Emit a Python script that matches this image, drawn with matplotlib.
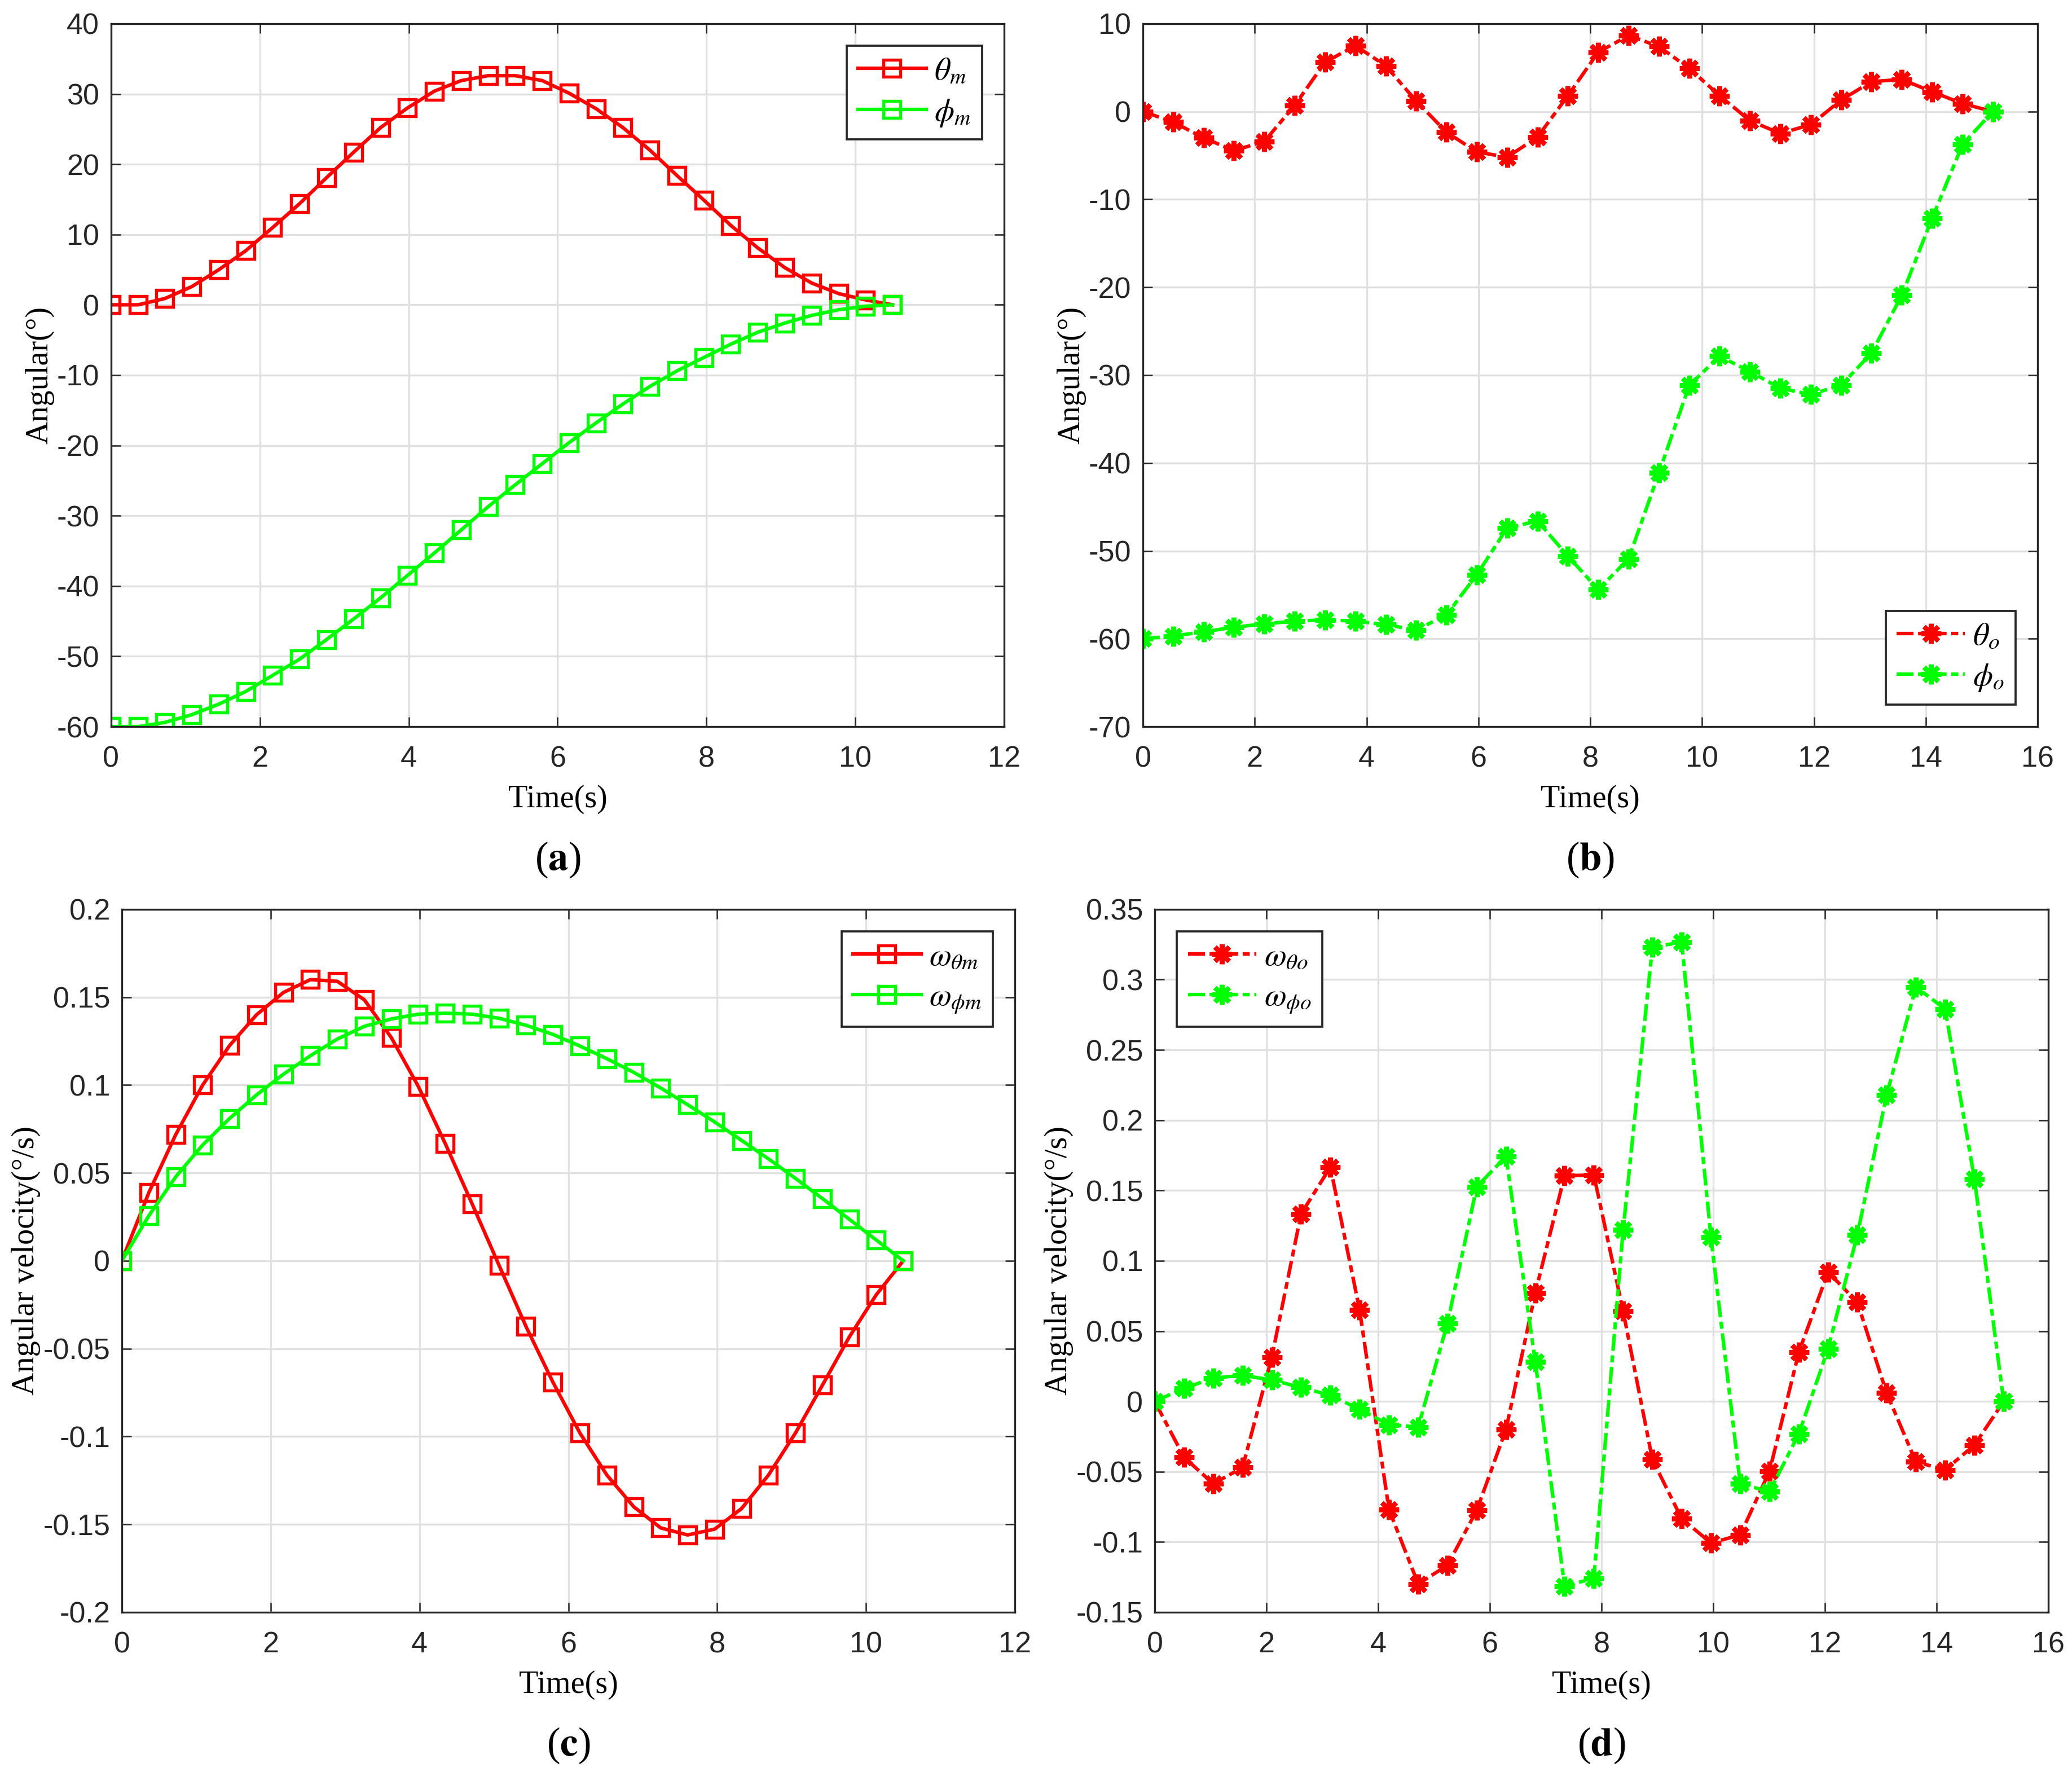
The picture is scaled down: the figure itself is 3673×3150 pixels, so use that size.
import numpy as np
import matplotlib.pyplot as plt
from matplotlib.ticker import FuncFormatter

plt.rcParams['font.family'] = ['Liberation Sans', 'DejaVu Sans']
plt.rcParams['mathtext.fontset'] = 'stix'
plt.rcParams['axes.unicode_minus'] = False

# Time vectors
t_m = np.linspace(0, 10.5, 30)
t_o = np.linspace(0, 15.2, 29)
t_wo = np.linspace(0, 15.2, 30)

# (a) angles of the m trajectory
theta_m = [0, 0, 0.9, 2.6, 5.0, 7.7, 11.0, 14.4, 18.1, 21.7, 25.2, 28.0, 30.4, 31.9, 32.6,
           32.6, 31.9, 30.1, 27.9, 25.2, 22.0, 18.4, 14.9, 11.3, 8.1, 5.3, 3.1, 1.6, 0.7, 0]
phi_m = [-60, -60, -59.4, -58.3, -56.8, -55.0, -52.7, -50.4, -47.6, -44.7, -41.7, -38.5, -35.3, -32.0,
         -28.7, -25.6, -22.6, -19.6, -16.8, -14.1, -11.6, -9.4, -7.5, -5.6, -3.9, -2.6, -1.5, -0.7, -0.2, 0]

# (b) angles of the o trajectory
theta_o = [0, -1.2, -3.0, -4.45, -3.4, 0.7, 5.6, 7.5, 5.2, 1.2, -2.35, -4.6, -5.2, -2.9, 1.8,
           6.75, 8.65, 7.4, 4.9, 1.8, -1.05, -2.5, -1.5, 1.3, 3.4, 3.65, 2.25, 0.9, 0]
phi_o = [-60, -59.7, -59.2, -58.7, -58.3, -58.0, -57.85, -58.0, -58.4, -59.0, -57.3, -52.7, -47.4,
         -46.6, -50.6, -54.4, -50.9, -41.1, -31.15, -27.85, -29.6, -31.5, -32.2, -31.15, -27.5,
         -20.9, -12.15, -3.75, 0]

# (c) angular velocity of the m trajectory
w_theta_m = [0, 0.0387, 0.0718, 0.100, 0.1225, 0.140, 0.1527, 0.160, 0.159, 0.1485, 0.127, 0.0993,
             0.0668, 0.0324, -0.0026, -0.0374, -0.0691, -0.098, -0.1219, -0.140, -0.152, -0.156,
             -0.1527, -0.141, -0.1219, -0.098, -0.0708, -0.0433, -0.0193, 0]
w_phi_m = [0, 0.0256, 0.0478, 0.0659, 0.081, 0.0944, 0.1062, 0.1167, 0.1262, 0.1334, 0.1376, 0.1403,
           0.1409, 0.1403, 0.138, 0.134, 0.1288, 0.1222, 0.115, 0.1072, 0.0983, 0.0888, 0.079,
           0.0685, 0.058, 0.0469, 0.0354, 0.0236, 0.0118, 0]

# (d) angular velocity of the o trajectory
w_theta_o = [0, -0.0397, -0.0586, -0.047, 0.0315, 0.1334, 0.1666, 0.0649, -0.0768, -0.1298, -0.1166,
             -0.0775, -0.0199, 0.0772, 0.1605, 0.161, 0.0642, -0.0414, -0.0834, -0.1007, -0.095,
             -0.0497, 0.0348, 0.092, 0.0705, 0.006, -0.043, -0.0487, -0.0311, 0]
w_phi_o = [0, 0.0093, 0.0166, 0.0185, 0.0152, 0.0099, 0.0043, -0.0056, -0.0166, -0.0182, 0.0556,
           0.1527, 0.1742, 0.0281, -0.1315, -0.1258, 0.1219, 0.3232, 0.3265, 0.1169, -0.0586,
           -0.0642, -0.0232, 0.0374, 0.1185, 0.2179, 0.2947, 0.2791, 0.1583, 0]

red = (1, 0, 0)
green = (0, 1, 0)
dark = (0.15, 0.15, 0.15)
asterisk = (8, 2, 0)


def tick_fmt(v, pos):
    # MATLAB style labels: 0.05, -0.1, 0 (never "-0")
    if abs(v) < 1e-9:
        return '0'
    return '%g' % round(v, 4)


fig = plt.figure(figsize=(3673 / 300, 3150 / 300), dpi=300)

panels = [
    dict(pos=[0.0536, 0.5911, 0.431, 0.3956], xmax=12, ylim=(-60, 40), ystep=10,
         ylabel='Angular(°)', cap='a'),
    dict(pos=[0.5516, 0.5911, 0.4318, 0.3956], xmax=16, ylim=(-70, 10), ystep=10,
         ylabel='Angular(°)', cap='b'),
    dict(pos=[0.0588, 0.0927, 0.431, 0.3956], xmax=12, ylim=(-0.2, 0.2), ystep=0.05,
         ylabel='Angular velocity(°/s)', cap='c'),
    dict(pos=[0.5573, 0.0927, 0.4313, 0.3956], xmax=16, ylim=(-0.15, 0.35), ystep=0.05,
         ylabel='Angular velocity(°/s)', cap='d'),
]

axes = []
for p in panels:
    ax = fig.add_axes(p['pos'])
    ax.set_xlim(0, p['xmax'])
    ax.set_ylim(*p['ylim'])
    ax.set_xticks(np.arange(0, p['xmax'] + 1, 2))
    ax.set_yticks(np.round(np.arange(p['ylim'][0], p['ylim'][1] + p['ystep'] / 2, p['ystep']), 3))
    ax.yaxis.set_major_formatter(FuncFormatter(tick_fmt))
    ax.grid(True, color=(0.88, 0.88, 0.88), linewidth=0.8)
    ax.set_axisbelow(True)
    ax.tick_params(direction='in', top=True, right=True, labelsize=12.5, length=4,
                   width=0.6, colors=dark, pad=5)
    ax.tick_params(axis='x', pad=8)
    for s in ax.spines.values():
        s.set_color(dark)
        s.set_linewidth(0.8)
    ax.set_xlabel('Time(s)', family='Liberation Serif', fontsize=13.5, labelpad=5)
    ax.set_ylabel(p['ylabel'], family='Liberation Serif', fontsize=13.5, labelpad=1)
    x0 = p['pos'][0] + p['pos'][2] / 2
    y0 = p['pos'][1] - 0.075
    fig.text(x0, y0, r'($\mathbf{' + p['cap'] + '}$)', ha='center', va='center',
             fontsize=17, family='Liberation Serif')
    axes.append(ax)

sq = dict(marker='s', markersize=7, markerfacecolor='none', markeredgewidth=1.3, linewidth=1.5)
st = dict(marker=asterisk, markersize=8.5, markeredgewidth=2.0, linewidth=1.5,
          linestyle=(0, (4.8, 1.3, 2, 1.3)))

# (a)
axes[0].plot(t_m, theta_m, color=red, label=r'$\theta_m$', **sq)
axes[0].plot(t_m, phi_m, color=green, label=r'$\phi_m$', **sq)
# (b)
axes[1].plot(t_o, theta_o, color=red, label=r'$\theta_o$', **st)
axes[1].plot(t_o, phi_o, color=green, label=r'$\phi_o$', **st)
# (c)
axes[2].plot(t_m, w_theta_m, color=red, label=r'$\omega_{\theta m}$', **sq)
axes[2].plot(t_m, w_phi_m, color=green, label=r'$\omega_{\phi m}$', **sq)
# (d)
axes[3].plot(t_wo, w_theta_o, color=red, label=r'$\omega_{\theta o}$', **st)
axes[3].plot(t_wo, w_phi_o, color=green, label=r'$\omega_{\phi o}$', **st)

for ax, loc in zip(axes, ['upper right', 'lower right', 'upper right', 'upper left']):
    leg = ax.legend(loc=loc, fontsize=13.5, handlelength=2.15, handletextpad=0.25,
                    borderpad=0.35, fancybox=False, framealpha=1, edgecolor=dark,
                    borderaxespad=0.7, labelspacing=0.35)
    leg.get_frame().set_linewidth(0.9)

fig.savefig('out.png', dpi=300, facecolor='white')
